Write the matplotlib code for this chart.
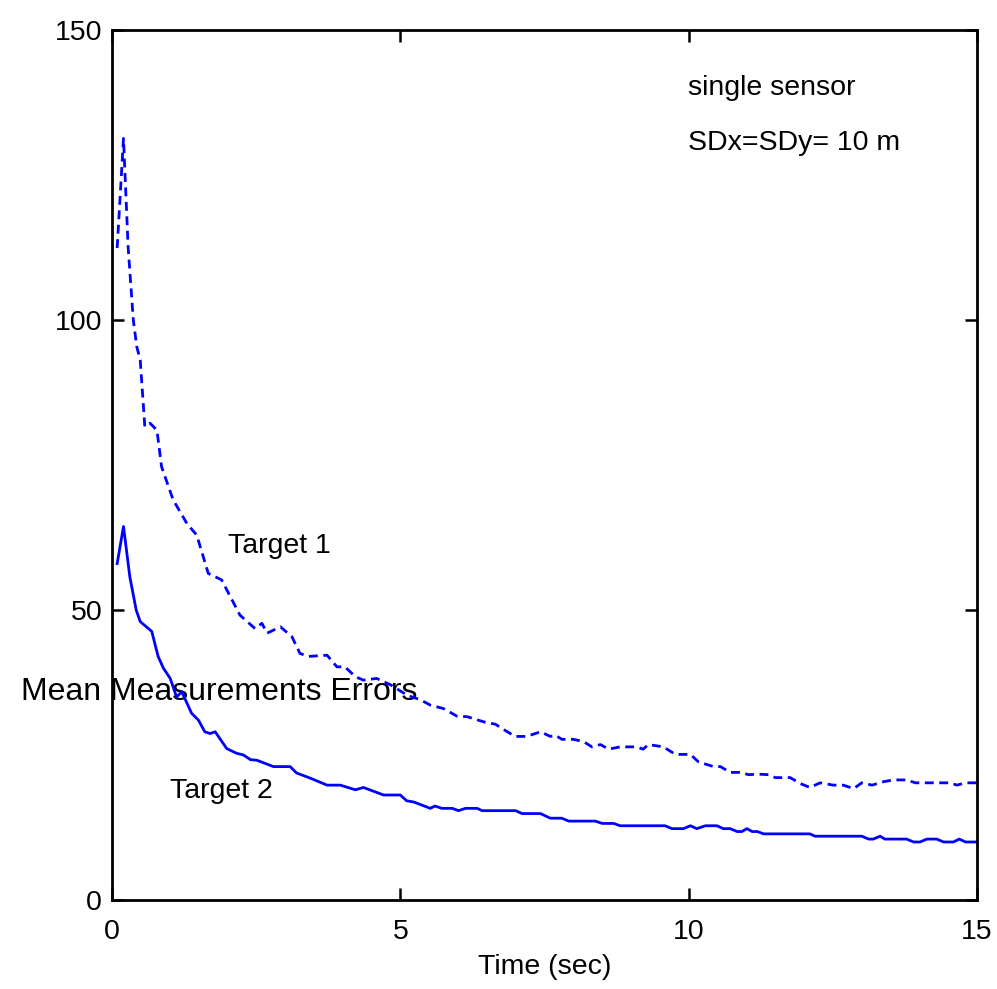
import numpy as np
import matplotlib
matplotlib.use('Agg')
import matplotlib.pyplot as plt
from matplotlib import font_manager

# pick a narrow font if there is one
names = {f.name for f in font_manager.fontManager.ttflist}
font = 'Liberation Sans Narrow' if 'Liberation Sans Narrow' in names else 'Liberation Sans'
plt.rcParams['font.family'] = font

# Target 1 (dashed)
t1 = [0.09, 0.2, 0.28, 0.37, 0.43, 0.49, 0.57, 0.66, 0.78, 0.86, 1.06, 1.30, 1.47, 1.67, 1.90,
      2.22, 2.48, 2.60, 2.69, 2.92, 3.12, 3.26, 3.41, 3.73, 3.90, 4.04, 4.22, 4.36, 4.59, 4.83,
      5.12, 5.35, 5.52, 5.75, 5.98, 6.16, 6.45, 6.65, 6.74, 6.99, 7.19, 7.43, 7.60, 7.69, 7.80,
      8.00, 8.18, 8.32, 8.47, 8.61, 8.81, 9.10, 9.21, 9.30, 9.56, 9.77, 10.03, 10.17, 10.43, 10.55,
      10.72, 10.90, 11.04, 11.19, 11.39, 11.50, 11.76, 11.93, 12.10, 12.28, 12.51, 12.68, 12.86,
      13.00, 13.18, 13.38, 13.55, 13.78, 13.93, 14.54, 14.65, 14.80, 15.0]
err1 = [112.4, 131.3, 112.6, 100, 95.4, 93.1, 81.6, 82.2, 81, 74.7, 69, 64.9, 62.9, 56.3, 55.2,
        49.1, 46.8, 47.7, 46, 47.1, 45.4, 42.5, 42, 42.2, 40.2, 40.2, 38.5, 37.9, 38.2, 37.1,
        35.3, 34.5, 33.6, 33, 31.7, 31.6, 30.7, 30.3, 29.7, 28.2, 28.2, 29, 28.2, 28.4, 27.7,
        27.7, 27.3, 26.4, 26.8, 26, 26.4, 26.4, 26, 26.8, 26.4, 25.1, 25.1, 23.8, 23, 23,
        22, 22, 21.6, 21.7, 21.6, 21.1, 21.1, 20.1, 19.4, 20.2, 19.8, 19.8, 19.2,
        20.2, 19.8, 20.4, 20.7, 20.7, 20.2, 20.2, 19.8, 20.2, 20.2]

# Target 2 (solid)
t2 = [0.09, 0.2, 0.31, 0.42, 0.49, 0.69, 0.80, 0.89, 1.01, 1.12, 1.21, 1.38, 1.50, 1.61, 1.70,
      1.79, 1.99, 2.16, 2.28, 2.40, 2.51, 2.80, 3.09, 3.20, 3.44, 3.73, 3.96, 4.22, 4.36, 4.71,
      5.00, 5.11, 5.23, 5.52, 5.60, 5.72, 5.90, 6.01, 6.13, 6.33, 6.42, 7.00, 7.11, 7.43, 7.60,
      7.80, 7.92, 8.38, 8.50, 8.70, 8.81, 9.59, 9.71, 9.91, 10.03, 10.14, 10.29, 10.49, 10.60,
      10.72, 10.84, 10.92, 11.01, 11.10, 11.19, 11.30, 12.10, 12.19, 13.00, 13.12, 13.20, 13.32,
      13.40, 13.78, 13.90, 14.01, 14.13, 14.30, 14.42, 14.59, 14.69, 14.80, 15.0]
err2 = [58, 64.4, 55.7, 50, 48, 46.3, 42, 40, 38.2, 35, 35.9, 32.2, 31, 29, 28.7,
        29, 26.1, 25.3, 25, 24.2, 24.1, 23, 23, 21.9, 21, 19.8, 19.8, 19, 19.4, 18.1,
        18.1, 17.1, 16.9, 15.8, 16.2, 15.8, 15.8, 15.4, 15.8, 15.8, 15.4, 15.4, 14.9, 14.9, 14.1,
        14.1, 13.6, 13.6, 13.2, 13.2, 12.8, 12.8, 12.3, 12.3, 12.8, 12.3, 12.8, 12.8, 12.3,
        12.3, 11.8, 11.8, 12.3, 11.8, 11.8, 11.4, 11.4, 11, 11, 10.5, 10.5, 11,
        10.5, 10.5, 10, 10, 10.5, 10.5, 10, 10, 10.5, 10, 10]

fig = plt.figure(figsize=(9.97, 9.89), dpi=100)
ax = fig.add_axes([0.1123, 0.09, 0.8677, 0.8797])

ax.plot(t1, err1, color='#0000ff', linestyle=(0, (3.2, 2.0)), linewidth=2.0)
ax.plot(t2, err2, color='#0000ff', linewidth=2.0)

ax.set_xlim(0, 15)
ax.set_ylim(0, 150)
ax.set_xticks([0, 5, 10, 15])
ax.set_yticks([0, 50, 100, 150])

for s in ax.spines.values():
    s.set_linewidth(2.0)
ax.tick_params(direction='in', length=8.5, width=1.8, top=True, right=True, labelsize=20.5)
ax.tick_params(axis='x', pad=14)
ax.tick_params(axis='y', pad=7)

ax.text(9.99, 140, 'single sensor', fontsize=20.5, va='center')
ax.text(9.99, 130.5, 'SDx=SDy= 10 m', fontsize=20.5, va='center')
ax.text(2.01, 61, 'Target 1', fontsize=20.5, va='center')
ax.text(1.0, 18.8, 'Target 2', fontsize=20.5, va='center')

ax.set_xlabel('Time (sec)', fontsize=20.5, labelpad=6)
ax.set_ylabel('Mean Measurements Errors', fontsize=23, rotation=0, ha='center', va='center')
ax.yaxis.set_label_coords(0.1235, 0.239)

fig.savefig('out.png', dpi=100)
